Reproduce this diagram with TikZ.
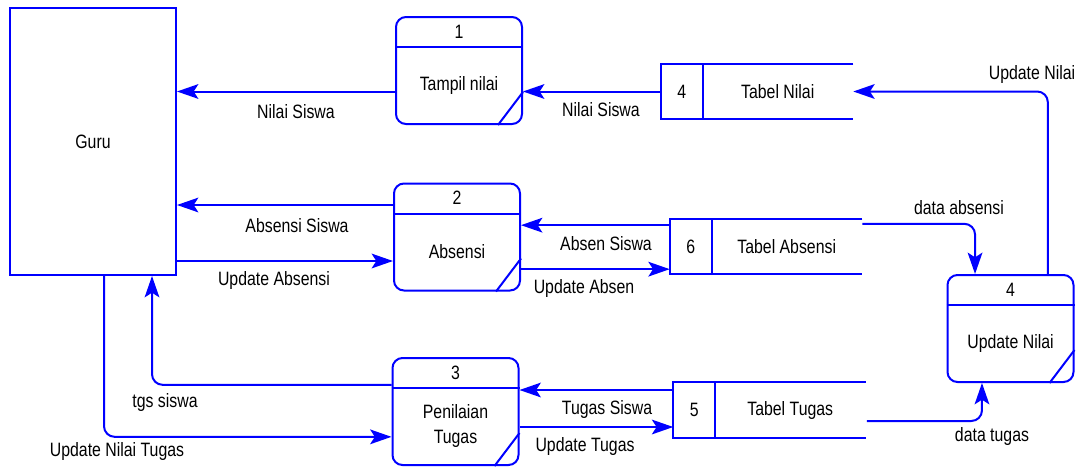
\documentclass[tikz,border=0pt]{standalone}
\usepackage{fontspec}
\setmainfont{Liberation Sans}[FakeStretch=0.82]
\usetikzlibrary{arrows.meta,calc}
\definecolor{dfdblue}{RGB}{0,0,255}
\tikzset{
  line/.style={draw=dfdblue, line width=1.5pt},
  flow/.style={line, -{Stealth[length=16pt,width=11pt,inset=3.5pt]}},
  curved/.style={flow, rounded corners=8pt},
  entity/.style={line, rectangle, minimum width=124.5pt, minimum height=200.25pt, inner sep=0pt},
  proc/.style={line, rectangle, rounded corners=7.5pt, minimum width=94.5pt, minimum height=80.25pt, inner sep=0pt},
  store/.style={rectangle, minimum width=144pt, minimum height=41.25pt, inner sep=0pt},
  lbl/.style={text=black, inner sep=0pt, font=\fontsize{14.5pt}{19pt}\selectfont}
}
% draws the number band and the corner slash of a process box
\newcommand\procdeco[3]{%
  \draw[line] ([yshift=-23.25pt]#1.north west) -- ([yshift=-23.25pt]#1.north east);
  \draw[line] ([xshift=-18.75pt]#1.south east) -- ([yshift=24.75pt]#1.south east);
  \node[lbl] (#1num) at ([yshift=-11.6pt]#1.north) {#2};
  \node[lbl, align=center] (#1name) at ([yshift=-51.75pt]#1.north) {#3};
}
% draws an open-ended data store with its number compartment
\newcommand\storedeco[3]{%
  \draw[line] (#1.north east) -- (#1.north west) -- (#1.south west) -- (#1.south east);
  \draw[line] ([xshift=31.5pt]#1.north west) -- ([xshift=31.5pt]#1.south west);
  \node[lbl] (#1num) at ([xshift=15.75pt]#1.west) {#2};
  \node[lbl] (#1name) at ([xshift=87.75pt]#1.west) {#3};
}
\begin{document}
\begin{tikzpicture}[x=0.75pt,y=-0.75pt]
\useasboundingbox (0,0) rectangle (1084,468);

% external entity
\node[entity, lbl, draw=dfdblue] (guru) at (93,141.5) {Guru};

% processes
\node[proc] (p1) at (459,70.5) {};
\procdeco{p1}{1}{Tampil nilai}
\node[proc] (p2) at (457,237) {};
\procdeco{p2}{2}{Absensi}
\node[proc] (p3) at (455.5,411.5) {};
\procdeco{p3}{3}{Penilaian\\Tugas}
\node[proc] (p4) at (1010.5,328.5) {};
\procdeco{p4}{4}{Update Nilai}

% data stores
\node[store] (tn) at (757,91.5) {};
\storedeco{tn}{4}{Tabel Nilai}
\node[store] (ta) at (766,246.5) {};
\storedeco{ta}{6}{Tabel Absensi}
\node[store] (tt) at (769.5,410) {};
\storedeco{tt}{5}{Tabel Tugas}

% attachment points of the flows
\coordinate (a2out) at ([yshift=24pt]p2.west);
\coordinate (a2in) at ([yshift=-18pt]p2.west);
\coordinate (taout) at ([yshift=16pt]ta.west);
\coordinate (tain) at ([yshift=-17pt]ta.west);
\coordinate (ttout) at ([yshift=15pt]tt.west);
\coordinate (ttin) at ([yshift=-12.75pt]tt.west);
\coordinate (p3out) at ([yshift=20pt]p3.west);
\coordinate (p3in) at ([yshift=-19pt]p3.west);
\coordinate (gurutgs) at ([xshift=44.25pt]guru.south);
\coordinate (guruupd) at ([xshift=8.25pt]guru.south);
\coordinate (p4top) at ([xshift=28pt]p4.north);
\coordinate (p4abs) at ([xshift=-26.6pt]p4.north);
\coordinate (p4tgs) at ([xshift=-21.4pt]p4.south);
\coordinate (taright) at ([yshift=17pt]ta.east);
\coordinate (ttright) at ([yshift=-8.25pt,xshift=0.75pt]tt.east);

% flows
\draw[flow] (p1.west |- tn.west) -- (guru.east |- tn.west);
\draw[flow] (tn.west) -- (p1.east |- tn.west);
\draw[curved] (p4top) |- (tn.east);

\draw[flow] (a2out) -- (guru.east |- a2out);
\draw[flow] (guru.east |- a2in) -- (a2in);
\draw[flow] (taout) -- (p2.east |- taout);
\draw[flow] (p2.east |- tain) -- (tain);
\draw[curved] (taright) -| (p4abs);

\draw[curved] (p3out) -| (gurutgs);
\draw[curved] (guruupd) |- (p3in);
\draw[flow] (ttout) -- (p3.east |- ttout);
\draw[flow] (p3.east |- ttin) -- (ttin);
\draw[curved] (ttright) -| (p4tgs);

% flow labels
\node[lbl] (l1) at (296,112) {Nilai Siswa};
\node[lbl] (l2) at (601,110) {Nilai Siswa};
\node[lbl] (l3) at (1032,74) {Update Nilai};
\node[lbl] (l4) at (297,226) {Absensi Siswa};
\node[lbl] (l5) at (274,280) {Update Absensi};
\node[lbl] (l6) at (606,244) {Absen Siswa};
\node[lbl] (l7) at (584,288) {Update Absen};
\node[lbl] (l8) at (959,208) {data absensi};
\node[lbl] (l9) at (165,402) {tgs siswa};
\node[lbl] (l10) at (117,451) {Update Nilai Tugas};
\node[lbl] (l11) at (607,409) {Tugas Siswa};
\node[lbl] (l12) at (585,446) {Update Tugas};
\node[lbl] (l13) at (992,436) {data tugas};
\end{tikzpicture}
\end{document}
